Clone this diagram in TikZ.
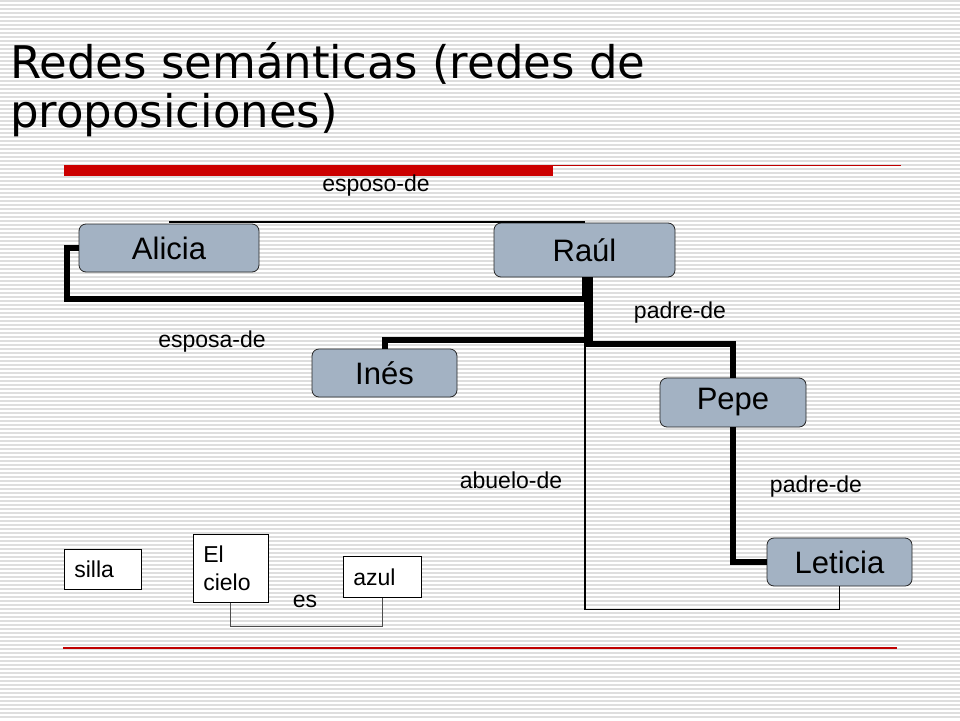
\documentclass[tikz,border=0pt]{standalone}
\usepackage{fontspec}
\setmainfont{Liberation Sans}
\newfontfamily\titlefont{DejaVu Sans}
\usetikzlibrary{positioning,calc}
\definecolor{nodegray}{HTML}{A3B2C3}
\definecolor{barred}{HTML}{CC0000}
\definecolor{linered}{HTML}{C00000}
\definecolor{stripegray}{HTML}{DEDEDE}
\tikzset{
  basic/.style   = {draw, inner sep=0pt},
  concept/.style = {basic, rounded corners=7pt, fill=nodegray, draw=black!85, line width=0.8pt, font=\fontsize{31}{36}\selectfont},
  word/.style    = {basic, anchor=north west, fill=white, line width=0.7pt, align=left, inner xsep=10pt, font=\fontsize{23}{28}\selectfont},
  tag/.style     = {inner sep=0pt, font=\fontsize{23}{28}\selectfont},
  bond/.style    = {line width=6pt},
  link/.style    = {line width=1.8pt}
}

\begin{document}
\begin{tikzpicture}[x=1pt,y=-1pt]
  \useasboundingbox (0,0) rectangle (960,720);
  \fill[white] (0,0) rectangle (960,720);
  \foreach \y in {1,5,...,717}
    \draw[stripegray, line width=1.3pt] (0,\y) -- (960,\y);
  % title and red rules
  \node[anchor=base west, inner sep=0pt, font=\titlefont\fontsize{45}{49}\selectfont] (title) at (10,78) {Redes semánticas (redes de};
  \node[anchor=base west, inner sep=0pt, font=\titlefont\fontsize{45}{49}\selectfont] (title2) at (10,127) {proposiciones)};
  \fill[barred] (64,165) rectangle (553,176);
  \draw[linered, line width=1.2pt] (553,165.5) -- (901,165.5);
  \draw[linered, line width=1.2pt] (63,648) -- (897,648);
  \begin{scope}[every node/.style={concept}]
    \node[minimum width=180pt, minimum height=48pt] (Alicia) at (169,248) {Alicia};
    \node[minimum width=181pt, minimum height=54pt] (Raul) at (584.5,250) {Raúl};
    \node[minimum width=145pt, minimum height=48pt] (Ines) at (384.5,373) {Inés};
    \node[minimum width=146pt, minimum height=49pt] (Pepe) at (733,402.5) {Pepe};
    \node[minimum width=145pt, minimum height=48pt] (Leticia) at (839.5,562) {Leticia};
  \end{scope}
  \draw[link, line width=2.2pt] ([yshift=1.5pt]Alicia.north) -- ([yshift=0.5pt]Raul.north);
  \draw[link] ([xshift=0.5pt]Raul.south) |- ([yshift=-23pt]Leticia.south) -- (Leticia.south);
  \draw[bond] (Raul.south) |- ([xshift=-12pt,yshift=-51pt]Alicia.west) |- (Alicia.west);
  \draw[bond] ([xshift=5pt]Raul.south) |- ([yshift=9pt]Ines.north) -- (Ines.north);
  \draw[bond] ([xshift=3pt]Raul.south) |- ([yshift=34pt]Pepe.north) -- (Pepe.north);
  \draw[bond] (Pepe.south) |- (Leticia.west);
  % relation names
  \node[tag] (esposo) at (376,186) {esposo-de};
  \node[tag] (padreA) at (680,313) {padre-de};
  \node[tag] (esposa) at (212,342) {esposa-de};
  \node[tag] (abuelo) at (511,480) {abuelo-de};
  \node[tag] (padreB) at (816,487) {padre-de};
  \node[tag] (es) at (305,601) {es};
  % small examples
  \node[word, text width=57pt, minimum height=40pt] (silla) at (64,549) {silla};
  \node[word, text width=55pt, minimum height=68pt] (cielo) at (193,534) {El\\cielo};
  \node[word, text width=58pt, minimum height=41pt] (azul) at (343,556) {azul};
  \draw[black!70, line width=1.2pt] (cielo.south) |- ([yshift=-29pt]azul.south) -- (azul.south);
\end{tikzpicture}
\end{document}
